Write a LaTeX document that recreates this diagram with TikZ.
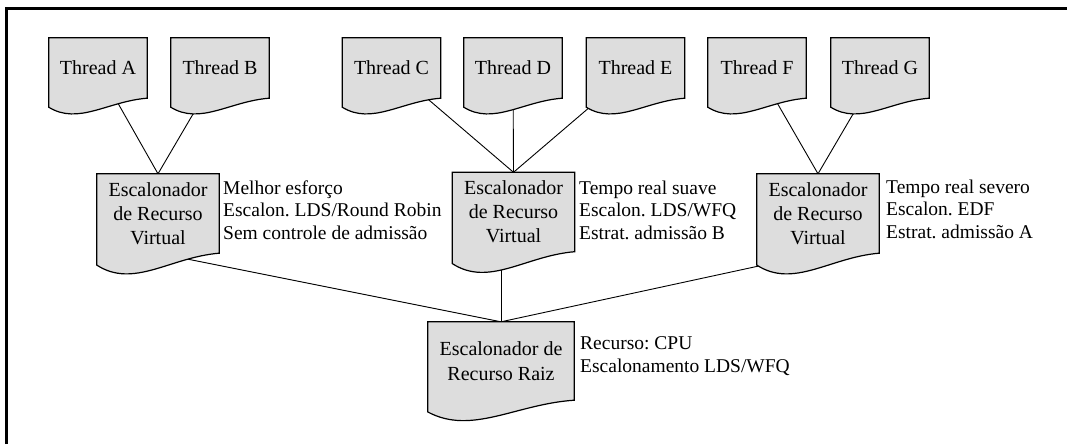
\documentclass[tikz,border=0pt]{standalone}
\usepackage{fontspec}
\setmainfont{Liberation Serif}
\usetikzlibrary{calc}
\definecolor{docgray}{RGB}{221,221,221}
\frenchspacing

% connectors lie under the document shapes, which lie under the labels
\pgfdeclarelayer{links}
\pgfdeclarelayer{shapes}
\pgfsetlayers{links,shapes,main}

\tikzset{
  doc/.style={inner sep=0pt, align=center, font=\fontsize{20}{24}\selectfont},
  thread/.style={doc, minimum width=98pt, minimum height=60pt},
  sched/.style={doc, minimum width=122pt, minimum height=79pt},
  rootsched/.style={doc, minimum width=146pt, minimum height=78pt, font=\fontsize{20}{25}\selectfont},
  note/.style={anchor=west, inner sep=0pt, align=left, font=\fontsize{19.5}{22.5}\selectfont},
  docbody/.style={fill=docgray, draw=black, line width=1.2pt},
  link/.style={draw=black, line width=0.9pt},
}

% document symbol: the node's box with a wavy lower edge
\newcommand\docshape[1]{%
  \begin{pgfonlayer}{shapes}
  \path[docbody] let \p1=(#1.south west), \p2=(#1.north east),
      \n1={\x2-\x1}, \n2={\y2-\y1} in
    (#1.north west) -- (#1.north east) -- (#1.south east)
    .. controls (\x1+0.6*\n1, \y1-0.05*\n2) and (\x1+0.3*\n1, \y1-0.45*\n2) ..
    (\x1, \y1-0.15*\n2) -- cycle;
  \end{pgfonlayer}}

\begin{document}
\begin{tikzpicture}[x=1pt, y=-1pt]
\useasboundingbox (0,0) rectangle (1067,444);

% frame
\draw[line width=2.5pt] (6.5,444) -- (6.5,8.5) -- (1067,8.5);

% threads
\node[thread] (tA) at (98,68)    {Thread A};
\node[thread] (tB) at (220,68)   {Thread B};
\node[thread] (tC) at (391.5,68) {Thread C};
\node[thread] (tD) at (513,68)   {Thread D};
\node[thread] (tE) at (635.5,68) {Thread E};
\node[thread] (tF) at (757,68)   {Thread F};
\node[thread] (tG) at (880,68)   {Thread G};

% virtual schedulers
\node[sched] (v1) at (158,213.5) {Escalonador\\de Recurso\\Virtual};
\node[sched] (v2) at (513.5,212) {Escalonador\\de Recurso\\Virtual};
\node[sched] (v3) at (818,213.5) {Escalonador\\de Recurso\\Virtual};

% root scheduler
\node[rootsched] (r) at (501,361) {Escalonador de\\Recurso Raiz};

% notes
\node[note] (n1) at (223,210) {Melhor esforço\\Escalon. LDS/Round Robin\\Sem controle de admissão};
\node[note] (n2) at (579,210) {Tempo real suave\\Escalon. LDS/WFQ\\Estrat. admissão B};
\node[note] (n3) at (886,209) {Tempo real severo\\Escalon. EDF\\Estrat. admissão A};
\node[note] (nr) at (580,356) {Recurso: CPU\\Escalonamento LDS/WFQ};

\foreach \s in {tA,tB,tC,tD,tE,tF,tG,v1,v2,v3,r} {\docshape{\s}}

\begin{pgfonlayer}{links}
  \draw[link] (tA.center) -- (v1.north);
  \draw[link] (tB.center) -- (v1.north);
  \draw[link] (tC.center) -- (v2.north);
  \draw[link] (tD.center) -- (v2.north);
  \draw[link] (tE.center) -- (v2.north);
  \draw[link] (tF.center) -- (v3.north);
  \draw[link] (tG.center) -- (v3.north);
  \draw[link] (v1.south) -- (r.north);
  \draw[link] (v3.south) -- (r.north);
  \draw[link] (r.north) -- (r.north |- v2.center);
\end{pgfonlayer}
\end{tikzpicture}
\end{document}
